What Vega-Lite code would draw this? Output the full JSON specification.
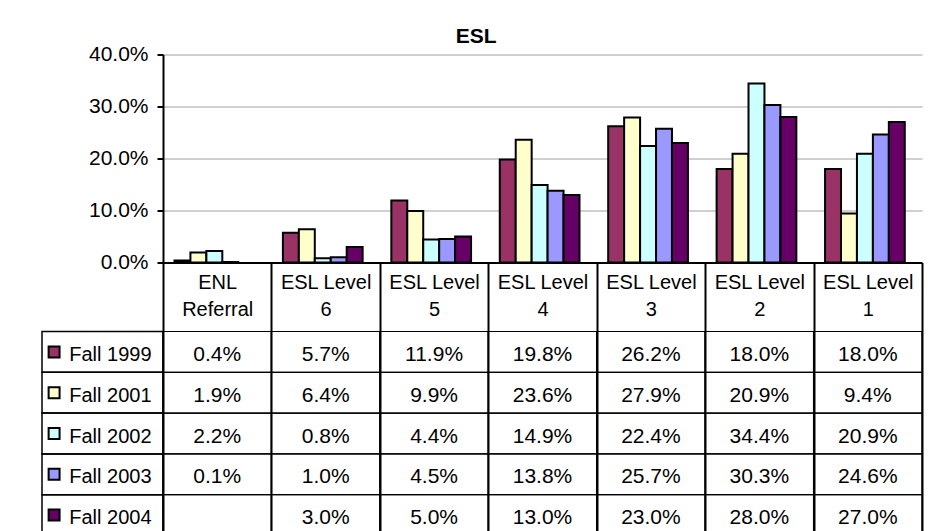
{
  "$schema": "https://vega.github.io/schema/vega-lite/v6.json",
  "padding": {"left": 41, "top": 25.5, "right": 2, "bottom": 0},
  "background": "white",
  "title": {"text": "ESL", "fontSize": 21, "fontWeight": "bold", "font": "Liberation Sans", "color": "#000", "anchor": "middle", "dx": -6, "offset": -3},
  "datasets": {
    "esl": [
      {"series": "Fall 1999", "cat": "ENL Referral", "value": 0.004},
      {"series": "Fall 1999", "cat": "ESL Level 6", "value": 0.057},
      {"series": "Fall 1999", "cat": "ESL Level 5", "value": 0.119},
      {"series": "Fall 1999", "cat": "ESL Level 4", "value": 0.198},
      {"series": "Fall 1999", "cat": "ESL Level 3", "value": 0.262},
      {"series": "Fall 1999", "cat": "ESL Level 2", "value": 0.180},
      {"series": "Fall 1999", "cat": "ESL Level 1", "value": 0.180},
      {"series": "Fall 2001", "cat": "ENL Referral", "value": 0.019},
      {"series": "Fall 2001", "cat": "ESL Level 6", "value": 0.064},
      {"series": "Fall 2001", "cat": "ESL Level 5", "value": 0.099},
      {"series": "Fall 2001", "cat": "ESL Level 4", "value": 0.236},
      {"series": "Fall 2001", "cat": "ESL Level 3", "value": 0.279},
      {"series": "Fall 2001", "cat": "ESL Level 2", "value": 0.209},
      {"series": "Fall 2001", "cat": "ESL Level 1", "value": 0.094},
      {"series": "Fall 2002", "cat": "ENL Referral", "value": 0.022},
      {"series": "Fall 2002", "cat": "ESL Level 6", "value": 0.008},
      {"series": "Fall 2002", "cat": "ESL Level 5", "value": 0.044},
      {"series": "Fall 2002", "cat": "ESL Level 4", "value": 0.149},
      {"series": "Fall 2002", "cat": "ESL Level 3", "value": 0.224},
      {"series": "Fall 2002", "cat": "ESL Level 2", "value": 0.344},
      {"series": "Fall 2002", "cat": "ESL Level 1", "value": 0.209},
      {"series": "Fall 2003", "cat": "ENL Referral", "value": 0.001},
      {"series": "Fall 2003", "cat": "ESL Level 6", "value": 0.010},
      {"series": "Fall 2003", "cat": "ESL Level 5", "value": 0.045},
      {"series": "Fall 2003", "cat": "ESL Level 4", "value": 0.138},
      {"series": "Fall 2003", "cat": "ESL Level 3", "value": 0.257},
      {"series": "Fall 2003", "cat": "ESL Level 2", "value": 0.303},
      {"series": "Fall 2003", "cat": "ESL Level 1", "value": 0.246},
      {"series": "Fall 2004", "cat": "ENL Referral", "value": null},
      {"series": "Fall 2004", "cat": "ESL Level 6", "value": 0.030},
      {"series": "Fall 2004", "cat": "ESL Level 5", "value": 0.050},
      {"series": "Fall 2004", "cat": "ESL Level 4", "value": 0.130},
      {"series": "Fall 2004", "cat": "ESL Level 3", "value": 0.230},
      {"series": "Fall 2004", "cat": "ESL Level 2", "value": 0.280},
      {"series": "Fall 2004", "cat": "ESL Level 1", "value": 0.270}
    ],
    "seriesList": [
      {"series": "Fall 1999"},
      {"series": "Fall 2001"},
      {"series": "Fall 2002"},
      {"series": "Fall 2003"},
      {"series": "Fall 2004"}
    ]
  },
  "config": {
    "font": "Liberation Sans",
    "view": {"stroke": null},
    "text": {"font": "Liberation Sans", "color": "#000"}
  },
  "columns": 2,
  "spacing": {"row": 69, "column": 0},
  "bounds": "flush",
  "concat": [
    {
      "width": 121,
      "height": 208,
      "data": {"values": [{"series": "Fall 1999"}]},
      "mark": {"type": "point", "opacity": 0},
      "encoding": {}
    },
    {
      "width": 759,
      "height": 208,
      "data": {"name": "esl"},
      "mark": {"type": "bar", "stroke": "#000", "strokeWidth": 2},
      "encoding": {
        "x": {
          "field": "cat", "type": "nominal",
          "sort": ["ENL Referral", "ESL Level 6", "ESL Level 5", "ESL Level 4", "ESL Level 3", "ESL Level 2", "ESL Level 1"],
          "scale": {"paddingInner": 0, "paddingOuter": 0},
          "axis": {
            "title": null, "orient": "bottom", "grid": false,
            "tickBand": "extent", "tickSize": 69, "tickColor": "#000", "tickWidth": 2,
            "domainColor": "#000", "domainWidth": 2,
            "labelAngle": 0, "labelFontSize": 20, "labelColor": "#000", "labelFont": "Liberation Sans",
            "labelBaseline": "alphabetic", "labelPadding": -43, "labelLineHeight": 27,
            "labelExpr": "[substring(datum.label, 0, lastindexof(datum.label, ' ')), substring(datum.label, lastindexof(datum.label, ' ') + 1)]"
          }
        },
        "y": {
          "field": "value", "type": "quantitative",
          "scale": {"domain": [0, 0.4]},
          "axis": {
            "title": null, "values": [0, 0.1, 0.2, 0.3, 0.4], "format": ".1%",
            "grid": true, "gridColor": "#c0c0c0", "gridWidth": 1.5,
            "domainColor": "#000", "domainWidth": 2,
            "tickColor": "#000", "tickWidth": 2, "tickSize": 6,
            "labelFontSize": 21, "labelColor": "#000", "labelFont": "Liberation Sans", "labelPadding": 9
          }
        },
        "xOffset": {
          "field": "series", "type": "nominal",
          "sort": ["Fall 1999", "Fall 2001", "Fall 2002", "Fall 2003", "Fall 2004"],
          "scale": {"paddingInner": 0, "paddingOuter": 0.9, "align": 0.4}
        },
        "fill": {
          "field": "series", "type": "nominal",
          "scale": {"domain": ["Fall 1999", "Fall 2001", "Fall 2002", "Fall 2003", "Fall 2004"], "range": ["#993366", "#FFFFCC", "#CCFFFF", "#9999FF", "#660066"]},
          "legend": null
        }
      }
    },
    {
      "width": 121,
      "height": 204,
      "data": {"name": "seriesList"},
      "encoding": {
        "y": {
          "field": "series", "type": "nominal",
          "sort": ["Fall 1999", "Fall 2001", "Fall 2002", "Fall 2003", "Fall 2004"],
          "scale": {"paddingInner": 0, "paddingOuter": 0},
          "axis": null
        }
      },
      "layer": [
        {"mark": {"type": "rect", "filled": false, "stroke": "#000", "strokeWidth": 1.5}},
        {
          "mark": {"type": "point", "shape": "square", "filled": true, "size": 120, "stroke": "#000", "strokeWidth": 2, "opacity": 1},
          "encoding": {
            "x": {"datum": 0.1, "type": "quantitative", "scale": {"domain": [0, 1]}, "axis": null},
            "fill": {
              "field": "series", "type": "nominal",
              "scale": {"domain": ["Fall 1999", "Fall 2001", "Fall 2002", "Fall 2003", "Fall 2004"], "range": ["#993366", "#FFFFCC", "#CCFFFF", "#9999FF", "#660066"]},
              "legend": null
            }
          }
        },
        {
          "mark": {"type": "text", "align": "left", "fontSize": 20, "dy": 3},
          "encoding": {
            "x": {"datum": 0.225, "type": "quantitative", "scale": {"domain": [0, 1]}, "axis": null},
            "text": {"field": "series"}
          }
        }
      ]
    },
    {
      "width": 759,
      "height": 204,
      "data": {"name": "esl"},
      "encoding": {
        "x": {
          "field": "cat", "type": "nominal",
          "sort": ["ENL Referral", "ESL Level 6", "ESL Level 5", "ESL Level 4", "ESL Level 3", "ESL Level 2", "ESL Level 1"],
          "scale": {"paddingInner": 0, "paddingOuter": 0},
          "axis": {"orient": "top", "title": null, "labels": false, "ticks": false, "domain": false, "grid": true, "tickBand": "extent", "gridColor": "#000", "gridWidth": 2, "zindex": 1}
        },
        "y": {
          "field": "series", "type": "nominal",
          "sort": ["Fall 1999", "Fall 2001", "Fall 2002", "Fall 2003", "Fall 2004"],
          "scale": {"paddingInner": 0, "paddingOuter": 0},
          "axis": null
        }
      },
      "layer": [
        {"mark": {"type": "rect", "filled": false, "stroke": "#000", "strokeWidth": 1.2}},
        {
          "transform": [{"filter": "isValid(datum.value)"}],
          "mark": {"type": "text", "fontSize": 21, "dy": 3},
          "encoding": {"text": {"field": "value", "type": "quantitative", "format": ".1%"}}
        }
      ]
    }
  ]
}
